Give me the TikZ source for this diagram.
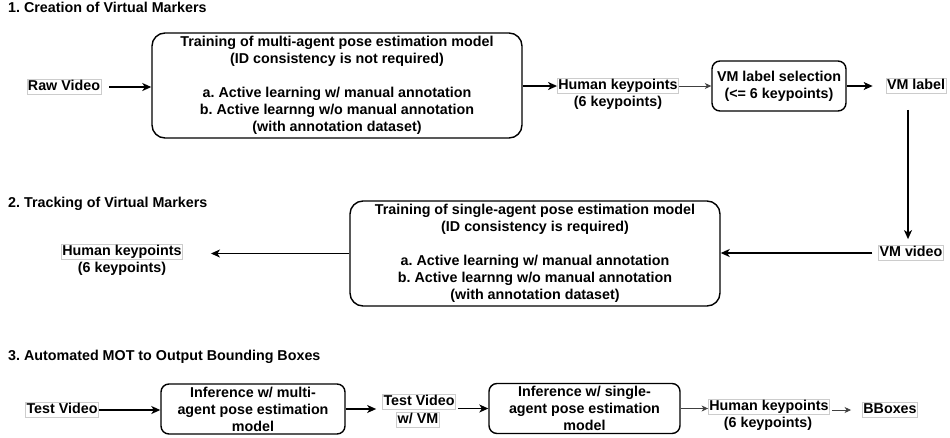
\documentclass[tikz,border=0pt]{standalone}
\usepackage{fontspec}
\setmainfont{Liberation Sans}
\usetikzlibrary{arrows.meta}
\frenchspacing
\begin{document}
\begin{tikzpicture}[x=1pt,y=-1pt,
  every node/.style={font=\fontsize{14.3}{17}\selectfont\bfseries\frenchspacing, inner sep=0pt},
  ttl/.style={anchor=west, text height=10.3pt, text depth=3pt},
  lbl/.style={draw=black!20, line width=0.7pt, inner xsep=1pt, inner ysep=0.8pt, text height=10.5pt, text depth=3pt},
  plaintxt/.style={text height=10.5pt, text depth=3pt},
  bigbox/.style={draw, line width=1.4pt, rounded corners=13pt, minimum width=370pt, minimum height=105pt, align=center},
  smallbox/.style={draw, line width=1.4pt, rounded corners=8pt, minimum height=50pt, align=center},
  arr/.style={line width=1.3pt, -{Stealth[length=9pt,width=8pt,inset=2.5pt]}},
  tarr/.style={line width=0.8pt, draw=black!75, -{Stealth[length=6.5pt,width=6pt,inset=2pt]}}
]
\useasboundingbox (0,0) rectangle (950,437);

% Section 1
\node[ttl] (t1) at (8,9) {1. Creation of Virtual Markers};
\node[lbl] (raw) at (64,87) {Raw Video};
\node[bigbox] (box1) at (337,85.5) {Training of multi-agent pose estimation model\\(ID consistency is not required)\\[17pt]a. Active learning w/ manual annotation\\b. Active learnng w/o manual annotation\\(with annotation dataset)};
\node[lbl] (hk1) at (618,86) {Human keypoints};
\node[plaintxt] (hk1b) at (618,103) {(6 keypoints)};
\node[smallbox, minimum width=134pt] (sel) at (779,86) {VM label selection\\(<= 6 keypoints)};
\node[lbl] (vml) at (916,86) {VM label};

% Section 2
\node[ttl] (t2) at (8,204) {2. Tracking of Virtual Markers};
\node[lbl] (vmv) at (911,253) {VM video};
\node[bigbox] (box2) at (535,253.5) {Training of single-agent pose estimation model\\(ID consistency is required)\\[17pt]a. Active learning w/ manual annotation\\b. Active learnng w/o manual annotation\\(with annotation dataset)};
\node[lbl] (hk2) at (122,252) {Human keypoints};
\node[plaintxt] (hk2b) at (122,269) {(6 keypoints)};

% Section 3
\node[ttl] (t3) at (8,357) {3. Automated MOT to Output Bounding Boxes};
\node[lbl] (tv) at (62,410) {Test Video};
\node[smallbox, minimum width=184pt] (infA) at (253,409) {Inference w/ multi-\\agent pose estimation\\model};
\node[lbl] (tv2) at (419,402) {Test Video};
\node[lbl] (tv2b) at (418,420) {w/ VM};
\node[smallbox, minimum width=191pt] (infB) at (584.5,408.5) {Inference w/ single-\\agent pose estimation\\model};
\node[lbl] (hk3) at (769,407) {Human keypoints};
\node[plaintxt] (hk3b) at (768,424) {(6 keypoints)};
\node[lbl] (bb) at (890,410) {BBoxes};

% Connectors section 1
\draw[arr, shorten <=8pt] (raw.east) -- (raw.east -| box1.west);
\draw[arr] (box1.east |- hk1.west) -- (hk1.west);
\draw[tarr] (hk1.east) -- (hk1.east -| sel.west);
\draw[arr, shorten >=13pt] (sel.east) -- (sel.east -| vml.west);
\draw[arr, shorten <=16pt, shorten >=6pt] ([xshift=-8pt]vml.south) -- ([xshift=-3pt]vmv.north);

% Connectors section 2
\draw[arr, shorten <=6pt] (vmv.west) -- (vmv.west -| box2.east);
\draw[arr, shorten >=28pt] (box2.west) -- (box2.west -| hk2.east);

% Connectors section 3
\draw[arr] (tv.east) -- (tv.east -| infA.west);
\draw[arr, shorten >=6pt] (infA.east) -- (infA.east -| tv2.west);
\draw[arr, shorten <=2pt] (infB.west -| tv2.east) -- (infB.west);
\draw[tarr] (infB.east) -- (infB.east -| hk3.west);
\draw[tarr, shorten <=2pt, shorten >=11pt] (bb.west -| hk3.east) -- (bb.west);
\end{tikzpicture}
\end{document}
